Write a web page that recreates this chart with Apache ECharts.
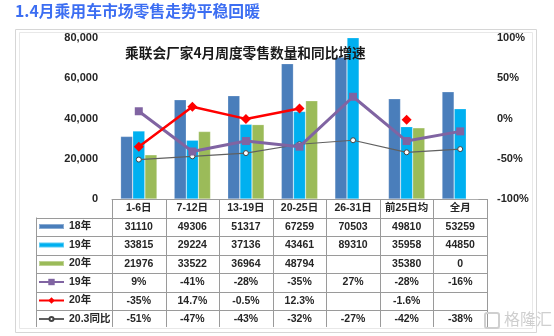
<!DOCTYPE html>
<html><head><meta charset="utf-8">
<script src="https://cdn.jsdelivr.net/npm/echarts@6/dist/echarts.min.js"></script>
<style>html,body{margin:0;padding:0;background:#fff}#c{width:554px;height:336px}</style>
</head><body><div id="c"></div>
<script>
// ---- data ----
const categories = ['1-6日','7-12日','13-19日','20-25日','26-31日','前25日均','全月'];
const sales18 = [31110,49306,51317,67259,70503,49810,53259];
const sales19 = [33815,29224,37136,43461,89310,35958,44850];
const sales20 = [21976,33522,36964,48794,null,35380,0];
const yoy19 = [9,-41,-28,-35,27,-28,-16];
const yoy20 = [-35,14.7,-0.5,12.3,null,-1.6,null];
const yoy203 = [-51,-47,-43,-32,-27,-42,-38];
const leftAxis = {min:0, max:80000, interval:20000};
const rightAxis = {min:-100, max:100, interval:50};
const seriesNames = ['18年','19年','20年','19年增速','20年增速','20.3同比'];
const legendLabels = {'18年':'18年','19年':'19年','20年':'20年','19年增速':'19年','20年增速':'20年','20.3同比':'20.3同比'};

// ---- layout ----
const FONT = '"Liberation Sans","Noto Sans CJK SC",sans-serif';
const G_LEFT = 112, G_RIGHT = 487, G_TOP = 38, G_BOTTOM = 199;
const ROW_H = 18.5, TABLE_LEFT = 36, TABLE_BOTTOM = 327;
const C18 = '#4a7ebb', C19 = '#00b0f0', C20 = '#9bbb59', CP = '#8064a2', CR = '#ff0000', CG = '#606060';
const TXT = '#262626', GRIDC = '#9a9a9a';

const fmtNum = v => (v === null || v === undefined) ? '' : String(v);
const fmtPct = v => (v === null || v === undefined) ? '' : v + '%';
const rows = [
  sales18.map(fmtNum), sales19.map(fmtNum), sales20.map(fmtNum),
  yoy19.map(fmtPct), yoy20.map(fmtPct), yoy203.map(fmtPct)
];

const labelBase = {fontFamily: FONT, fontWeight: 'bold', fontSize: 10.5, color: TXT};

const xAxes = [{
  type: 'category', data: categories, gridIndex: 0, position: 'bottom',
  axisLine: {show: true, lineStyle: {color: GRIDC, width: 1}},
  axisTick: {show: false},
  axisLabel: Object.assign({interval: 0, margin: ROW_H / 2, verticalAlign: 'middle'}, labelBase)
}];
rows.forEach((r, k) => {
  xAxes.push({
    type: 'category', data: categories, gridIndex: 0, position: 'bottom',
    offset: ROW_H * (k + 1),
    axisLine: {show: false}, axisTick: {show: false},
    axisLabel: Object.assign({interval: 0, margin: ROW_H / 2, verticalAlign: 'middle',
      formatter: (v, i) => r[i]}, labelBase)
  });
});

// legends, one per table row
const legendH = [8, 8, 8, 8, 8, 5];
const legends = seriesNames.map((n, k) => ({
  orient: 'vertical', left: 38,
  top: G_BOTTOM + ROW_H * (k + 1) + ROW_H / 2 - 5.5,
  padding: 0, itemWidth: 25, itemHeight: legendH[k], selectedMode: false,
  data: [k < 3 ? {name: n, icon: 'path://M0,0h25v5H0z'} : {name: n}],
  formatter: name => legendLabels[name],
  textStyle: {fontFamily: FONT, fontWeight: 'bold', fontSize: 10.5, color: TXT}
}));

// table grid lines
const graphics = [];
const colW = (G_RIGHT - G_LEFT) / categories.length;
for (let k = 0; k <= categories.length; k++) {
  const x = Math.round(G_LEFT + k * colW) + 0.5;
  graphics.push({type: 'line', shape: {x1: x, y1: G_BOTTOM, x2: x, y2: TABLE_BOTTOM},
    style: {stroke: GRIDC, lineWidth: 1}, silent: true});
}
graphics.push({type: 'line', shape: {x1: TABLE_LEFT + 0.5, y1: G_BOTTOM + ROW_H, x2: TABLE_LEFT + 0.5, y2: TABLE_BOTTOM},
  style: {stroke: GRIDC, lineWidth: 1}, silent: true});
for (let k = 1; k <= 6; k++) {
  const y = Math.round(G_BOTTOM + ROW_H * k) + 0.5;
  graphics.push({type: 'line', shape: {x1: TABLE_LEFT, y1: y, x2: G_RIGHT, y2: y},
    style: {stroke: GRIDC, lineWidth: 1}, silent: true});
}
// frame
graphics.push({type: 'rect', shape: {x: 15.5, y: 29.5, width: 521, height: 303},
  style: {fill: 'none', stroke: '#d6d6d6', lineWidth: 1}, silent: true, z: -1});
graphics.push({type: 'rect', shape: {x: 19.5, y: 32.5, width: 513, height: 296},
  style: {fill: 'none', stroke: '#e8e8e8', lineWidth: 1}, silent: true, z: -1});
// page title
graphics.push({type: 'text', left: 15, top: 3,
  style: {text: '1.4月乘用车市场零售走势平稳回暖', fill: '#3c6ef2',
    font: 'bold 15.8px "Noto Sans CJK SC", sans-serif'}});
// watermark
graphics.push({type: 'rect', shape: {x: 485, y: 313, width: 14, height: 15, r: 2},
  style: {fill: 'none', stroke: '#cfcfcf', lineWidth: 2}, silent: true, z: 50});
graphics.push({type: 'text', left: 504, top: 311,
  style: {text: '格隆汇', fill: '#cfcfcf', font: '16px "Noto Sans CJK SC", sans-serif'}, z: 50});

const chart = echarts.init(document.getElementById('c'), null, {renderer: 'canvas'});
chart.setOption({
  animation: false,
  backgroundColor: '#fff',
  title: {text: '乘联会厂家4月周度零售数量和同比增速', left: 125, top: 46, padding: 0,
    textStyle: {fontFamily: '"Noto Sans CJK SC", sans-serif', fontWeight: 'bold', fontSize: 13.7, color: '#1a1a1a'}},
  legend: legends,
  grid: {left: G_LEFT, right: 554 - G_RIGHT, top: G_TOP, bottom: 336 - G_BOTTOM, containLabel: false},
  xAxis: xAxes,
  yAxis: [
    {type: 'value', min: leftAxis.min, max: leftAxis.max, interval: leftAxis.interval,
      axisLine: {show: false}, axisTick: {show: false}, splitLine: {show: false},
      axisLabel: Object.assign({margin: 14}, labelBase, {fontSize: 11})},
    {type: 'value', min: rightAxis.min, max: rightAxis.max, interval: rightAxis.interval, position: 'right',
      axisLine: {show: false}, axisTick: {show: false}, splitLine: {show: false},
      axisLabel: Object.assign({margin: 10, formatter: '{value}%'}, labelBase, {fontSize: 11})}
  ],
  series: [
    {name: '18年', type: 'bar', data: sales18, barGap: 0, barCategoryGap: '32%',
      itemStyle: {color: C18, borderColor: 'rgba(255,255,255,0.35)', borderWidth: 0.6}},
    {name: '19年', type: 'bar', data: sales19, barGap: 0, barCategoryGap: '32%',
      itemStyle: {color: C19, borderColor: 'rgba(255,255,255,0.35)', borderWidth: 0.6}},
    {name: '20年', type: 'bar', data: sales20, barGap: 0, barCategoryGap: '32%',
      itemStyle: {color: C20, borderColor: 'rgba(255,255,255,0.35)', borderWidth: 0.6}},
    {name: '19年增速', type: 'line', yAxisIndex: 1, data: yoy19, symbol: 'rect', symbolSize: 8,
      lineStyle: {color: CP, width: 3}, itemStyle: {color: CP}, z: 5},
    {name: '20年增速', type: 'line', yAxisIndex: 1, data: yoy20, symbol: 'diamond', symbolSize: 10,
      connectNulls: false, lineStyle: {color: CR, width: 2.5}, itemStyle: {color: CR}, z: 6},
    {name: '20.3同比', type: 'line', yAxisIndex: 1, data: yoy203, symbol: 'circle', symbolSize: 5,
      showSymbol: true, lineStyle: {color: CG, width: 1.2},
      itemStyle: {color: '#ffffff', borderColor: '#444', borderWidth: 1}, z: 4}
  ],
  graphic: graphics
});
</script>
</body></html>
